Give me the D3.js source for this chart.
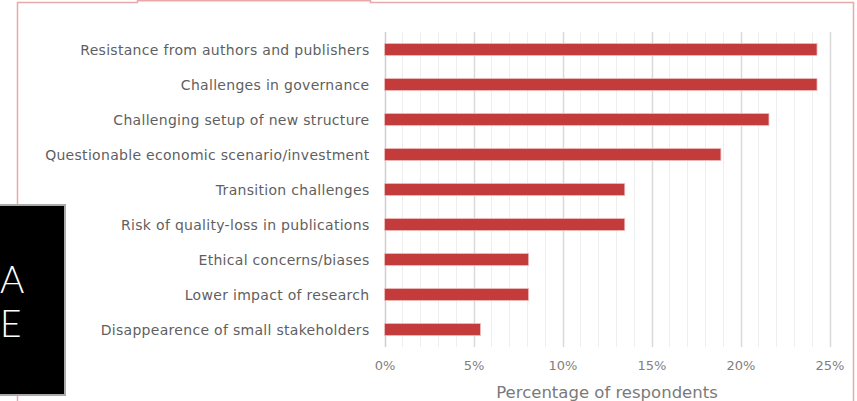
<!DOCTYPE html>
<html>
<head>
<meta charset="utf-8">
<script src="https://cdn.jsdelivr.net/npm/d3@7"></script>
<style>
  html, body { margin: 0; padding: 0; background: #fff; }
  svg { display: block; }
</style>
</head>
<body>
<svg id="chart" width="857" height="401"></svg>
<script>
const categories = [
  "Resistance from authors and publishers",
  "Challenges in governance",
  "Challenging setup of new structure",
  "Questionable economic scenario/investment",
  "Transition challenges",
  "Risk of quality-loss in publications",
  "Ethical concerns/biases",
  "Lower impact of research",
  "Disappearence of small stakeholders"
];
const values = [24.3, 24.3, 21.6, 18.9, 13.5, 13.5, 8.1, 8.1, 5.4];
const tickValues = [0, 5, 10, 15, 20, 25];
const axisTitle = "Percentage of respondents";

const svg = d3.select("#chart");
const font = "'DejaVu Sans', sans-serif";

// slide frame
const frame = svg.append("g").attr("fill", "none").attr("stroke", "#eaa9a9").attr("stroke-width", 1.5);
frame.append("path").attr("d", "M17.5,401 V2.5 H137.5 V0.8 H370.5 V2.5 H853.5 V401");

const m = { left: 384.5, right: 829.5, top: 32, bottom: 347 };
const x = d3.scaleLinear().domain([0, 25]).range([m.left, m.right]);
const y = d3.scaleBand().domain(categories).range([m.top, m.bottom]).paddingInner(0.65).paddingOuter(0.325);

// gridlines
const minor = d3.range(0, 26, 1);
svg.append("g").selectAll("line").data(minor).join("line")
  .attr("x1", d => Math.round(x(d)) + 0.5).attr("x2", d => Math.round(x(d)) + 0.5)
  .attr("y1", m.top).attr("y2", m.bottom)
  .attr("stroke", d => d === 0 ? "#cfcfcf" : (d % 5 === 0 ? "#d9d9d9" : "#eeeeee"))
  .attr("stroke-width", d => d % 5 === 0 ? 1.5 : 1);

// bars
svg.append("g").selectAll("rect").data(values).join("rect")
  .attr("x", x(0))
  .attr("y", (d, i) => y(categories[i]))
  .attr("width", d => x(d) - x(0))
  .attr("height", y.bandwidth())
  .attr("fill", "#c43b3b")
  .attr("stroke", "#f0c4c4")
  .attr("stroke-width", 0.8);

// y labels
const yAxis = d3.axisLeft(y).tickSize(0).tickPadding(15);
const ya = svg.append("g").attr("transform", `translate(${m.left},1)`).call(yAxis);
ya.select(".domain").remove();
ya.selectAll("text").attr("font-family", font).attr("font-size", 14).attr("letter-spacing", 0.3).attr("fill", "#5f5f5f");

// x axis ticks
const xAxis = d3.axisBottom(x).tickValues(tickValues).tickSize(0).tickPadding(14).tickFormat(d => d + "%");
const xa = svg.append("g").attr("transform", `translate(0,${m.bottom})`).call(xAxis);
xa.select(".domain").remove();
xa.selectAll("text").attr("font-family", font).attr("font-size", 13).attr("fill", "#7f7f7f");

svg.append("text").attr("x", (m.left + m.right) / 2).attr("y", 398)
  .attr("text-anchor", "middle").attr("font-family", font).attr("font-size", 16.5)
  .attr("fill", "#7a7a7a").text(axisTitle);

// black side box
svg.append("rect").attr("x", -2).attr("y", 205).attr("width", 67).attr("height", 190)
  .attr("fill", "#000").attr("stroke", "#aaaaaa").attr("stroke-width", 2);
svg.append("text").attr("x", 0).attr("y", 292.5).attr("text-anchor", "start")
  .attr("font-family", "Lato, sans-serif").attr("font-weight", 300).attr("font-size", 37).attr("fill", "#fff").text("A");
svg.append("text").attr("x", 0).attr("y", 336.5).attr("text-anchor", "start")
  .attr("font-family", "Lato, sans-serif").attr("font-weight", 300).attr("font-size", 37).attr("fill", "#fff").text("E");
</script>
</body>
</html>
